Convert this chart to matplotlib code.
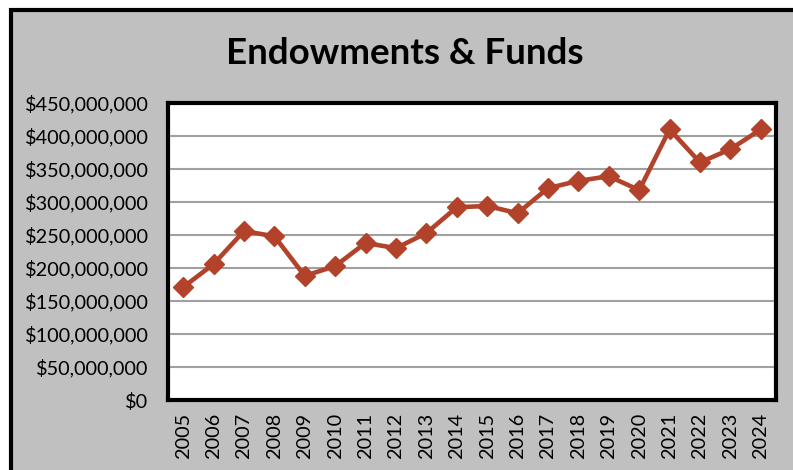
import matplotlib
matplotlib.use("Agg")
import matplotlib.pyplot as plt
from matplotlib.patches import Rectangle
from matplotlib.ticker import FuncFormatter

years = [str(y) for y in range(2005, 2025)]
values = [171e6, 206e6, 256e6, 248e6, 188e6, 203e6, 238e6, 230e6, 253e6, 292e6,
          294e6, 283e6, 321e6, 332e6, 339e6, 318e6, 410e6, 360e6, 380e6, 410e6]

plt.rcParams['font.family'] = ['Lato', 'DejaVu Sans']

fig = plt.figure(figsize=(7.93, 4.70), dpi=100)
fig.patch.set_facecolor("white")

# gray chart area with black frame (runs off the right and bottom edges)
bg = fig.add_axes([0, 0, 1, 1], zorder=-1)
bg.set_xlim(0, 793)
bg.set_ylim(470, 0)
bg.axis("off")
bg.add_patch(Rectangle((11, 10), 800, 480, facecolor="#c0c0c0",
                       edgecolor="black", linewidth=3))

ax = fig.add_axes([168 / 793, 1 - 400 / 470, (776 - 168) / 793, (400 - 103) / 470])
ax.set_facecolor("white")

x = list(range(len(years)))
ax.plot(x, values, color="#b3422a", linewidth=3.3, marker="D", markersize=10.5,
        zorder=3)

ax.set_xlim(-0.5, len(years) - 0.5)
ax.set_ylim(0, 450e6)
ax.set_yticks([i * 50e6 for i in range(10)])
ax.yaxis.set_major_formatter(FuncFormatter(lambda v, p: "${:,.0f}".format(v)))
ax.set_xticks(x)
ax.set_xticklabels(years, rotation=90)
ax.tick_params(axis="both", length=0, labelsize=14.3)
ax.tick_params(axis="y", pad=14)
ax.tick_params(axis="x", pad=9)
ax.grid(axis="y", color="#a0a0a0", linewidth=1.5)
ax.set_axisbelow(True)
for s in ax.spines.values():
    s.set_linewidth(3)
    s.set_color("black")

fig.text(405 / 793, 1 - 54 / 470, "Endowments & Funds", ha="center", va="center",
         fontsize=26.5, fontweight="bold")

fig.savefig("out.png", dpi=100)
